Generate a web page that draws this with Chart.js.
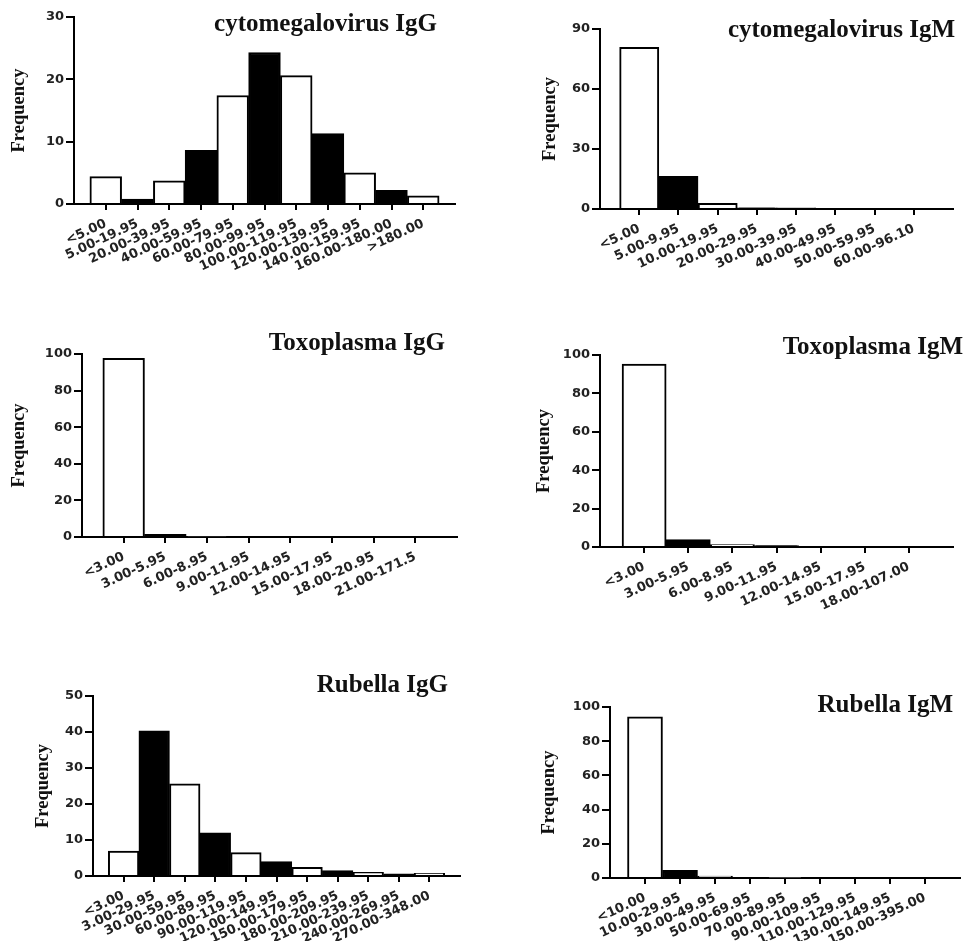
<!DOCTYPE html>
<html>
<head>
<meta charset="utf-8">
<title>Frequency histograms</title>
<script src="https://cdn.jsdelivr.net/npm/chart.js@4.4.1/dist/chart.umd.min.js"></script>
<style>
    html, body { margin: 0; padding: 0; background: #fff; }
    body { position: relative; width: 970px; height: 941px; overflow: hidden; }
    canvas { position: absolute; }
    .panel-title {
        position: absolute;
        font: bold 25px 'Liberation Serif', 'Times New Roman', serif;
        line-height: 24px;
        color: #111;
        white-space: nowrap;
    }
</style>
</head>
<body>
<script>
// --- data ---
const cmvIggLabels = ['<5.00', '5.00-19.95', '20.00-39.95', '40.00-59.95', '60.00-79.95', '80.00-99.95',
    '100.00-119.95', '120.00-139.95', '140.00-159.95', '160.00-180.00', '>180.00'];
const cmvIggValues = [4.4, 0.8, 3.7, 8.6, 17.4, 24.3, 20.6, 11.3, 5.0, 2.2, 1.3];
const cmvIggTicks = [0, 10, 20, 30];

const cmvIgmLabels = ['<5.00', '5.00-9.95', '10.00-19.95', '20.00-29.95', '30.00-39.95', '40.00-49.95',
    '50.00-59.95', '60.00-96.10'];
const cmvIgmValues = [80.8, 16.3, 2.8, 0.6, 0.6, 0, 0, 0];
const cmvIgmTicks = [0, 30, 60, 90];

const toxoIggLabels = ['<3.00', '3.00-5.95', '6.00-8.95', '9.00-11.95', '12.00-14.95', '15.00-17.95',
    '18.00-20.95', '21.00-171.5'];
const toxoIggValues = [97.6, 1.5, 0.5, 0.5, 0, 0, 0, 0.5];
const toxoIggTicks = [0, 20, 40, 60, 80, 100];

const toxoIgmLabels = ['<3.00', '3.00-5.95', '6.00-8.95', '9.00-11.95', '12.00-14.95', '15.00-17.95',
    '18.00-107.00'];
const toxoIgmValues = [95.3, 3.8, 1.3, 0.7, 0, 0, 0];
const toxoIgmTicks = [0, 20, 40, 60, 80, 100];

const rubellaIggLabels = ['<3.00', '3.00-29.95', '30.00-59.95', '60.00-89.95', '90.00-119.95', '120.00-149.95',
    '150.00-179.95', '180.00-209.95', '210.00-239.95', '240.00-269.95', '270.00-348.00'];
const rubellaIggValues = [6.9, 40.3, 25.6, 12.0, 6.5, 4.0, 2.4, 1.5, 1.0, 0.6, 0.75];
const rubellaIggTicks = [0, 10, 20, 30, 40, 50];

const rubellaIgmLabels = ['<10.00', '10.00-29.95', '30.00-49.95', '50.00-69.95', '70.00-89.95', '90.00-109.95',
    '110.00-129.95', '130.00-149.95', '150.00-395.00'];
const rubellaIgmValues = [94.2, 4.5, 1.1, 0.5, 0.5, 0, 0, 0, 0];
const rubellaIgmTicks = [0, 20, 40, 60, 80, 100];

// --- page layout (pixel positions of each panel's axes) ---
const panels = [
    { title: 'cytomegalovirus IgG', labels: cmvIggLabels, values: cmvIggValues, yTicks: cmvIggTicks,
      axis: { left: 74, right: 455, top: 17, bottom: 204 }, freqX: 18, titleRight: 437, titleTop: 11 },
    { title: 'cytomegalovirus IgM', labels: cmvIgmLabels, values: cmvIgmValues, yTicks: cmvIgmTicks,
      axis: { left: 600, right: 953, top: 29, bottom: 209 }, freqX: 549, titleRight: 955, titleTop: 17 },
    { title: 'Toxoplasma IgG', labels: toxoIggLabels, values: toxoIggValues, yTicks: toxoIggTicks,
      axis: { left: 82, right: 457, top: 354, bottom: 537 }, freqX: 18, titleRight: 445, titleTop: 330 },
    { title: 'Toxoplasma IgM', labels: toxoIgmLabels, values: toxoIgmValues, yTicks: toxoIgmTicks,
      axis: { left: 600, right: 953, top: 355, bottom: 547 }, freqX: 543, titleRight: 963, titleTop: 334 },
    { title: 'Rubella IgG', labels: rubellaIggLabels, values: rubellaIggValues, yTicks: rubellaIggTicks,
      axis: { left: 93, right: 460, top: 696, bottom: 876 }, freqX: 42, titleRight: 448, titleTop: 672 },
    { title: 'Rubella IgM', labels: rubellaIgmLabels, values: rubellaIgmValues, yTicks: rubellaIgmTicks,
      axis: { left: 610, right: 960, top: 707, bottom: 878 }, freqX: 548, titleRight: 953, titleTop: 692 }
];

const PAGE_WIDTH = 970;
const tickFont = { family: 'DejaVu Sans', weight: 'bold', size: 13 };
const yTickFont = { family: 'DejaVu Sans', weight: 'bold', size: 13 };
const freqFont = { family: 'Liberation Serif', weight: 'bold', size: 18.5 };

Chart.defaults.font.family = 'DejaVu Sans';

function addTitle(panel) {
    const div = document.createElement('div');
    div.className = 'panel-title';
    div.textContent = panel.title;
    div.style.top = panel.titleTop + 'px';
    div.style.right = (PAGE_WIDTH - panel.titleRight) + 'px';
    document.body.appendChild(div);
}

function renderPanel(panel) {
    const { axis, labels, values, yTicks } = panel;
    const box = {
        left: panel.freqX - 12,
        top: axis.top - 12,
        right: axis.right + 12,
        bottom: axis.bottom + 95
    };
    const canvas = document.createElement('canvas');
    canvas.width = box.right - box.left;
    canvas.height = box.bottom - box.top;
    canvas.style.left = box.left + 'px';
    canvas.style.top = box.top + 'px';
    canvas.style.width = canvas.width + 'px';
    canvas.style.height = canvas.height + 'px';
    document.body.appendChild(canvas);

    const yWidth = axis.left - box.left;
    const xHeight = box.bottom - axis.bottom;

    new Chart(canvas, {
        type: 'bar',
        data: {
            datasets: [{
                data: values.map((v, i) => ({ x: i, y: v })),
                backgroundColor: (ctx) => (ctx.dataIndex % 2 ? '#000' : '#fff'),
                borderColor: '#000',
                borderWidth: 2,
                barPercentage: 1,
                categoryPercentage: 1
            }]
        },
        options: {
            responsive: false,
            animation: false,
            layout: { padding: { top: axis.top - box.top, right: box.right - axis.right, left: 0, bottom: 0 } },
            plugins: { legend: { display: false }, tooltip: { enabled: false } },
            scales: {
                x: {
                    type: 'linear',
                    offset: false,
                    min: -1,
                    max: labels.length,
                    z: 1,
                    afterBuildTicks: (s) => { s.ticks = labels.map((_, i) => ({ value: i })); },
                    afterFit: (s) => { s.height = xHeight; },
                    ticks: {
                        autoSkip: false,
                        minRotation: 25,
                        maxRotation: 25,
                        padding: 6,
                        color: '#222',
                        font: tickFont,
                        callback: (value) => labels[value] ?? ''
                    },
                    grid: { offset: false, drawOnChartArea: false, drawTicks: true, tickLength: 6, color: '#000', lineWidth: 2 },
                    border: { color: '#000', width: 2 }
                },
                y: {
                    min: yTicks[0],
                    max: yTicks[yTicks.length - 1],
                    afterBuildTicks: (s) => { s.ticks = yTicks.map((value) => ({ value })); },
                    afterFit: (s) => { s.width = yWidth; },
                    ticks: { color: '#222', font: yTickFont, padding: 2 },
                    grid: { drawOnChartArea: false, drawTicks: true, tickLength: 8, color: '#000', lineWidth: 2 },
                    border: { color: '#000', width: 2 },
                    title: { display: true, text: 'Frequency', color: '#111', font: freqFont, padding: { top: 2, bottom: 0 } }
                }
            }
        }
    });
    addTitle(panel);
}

panels.forEach(renderPanel);
</script>
</body>
</html>
